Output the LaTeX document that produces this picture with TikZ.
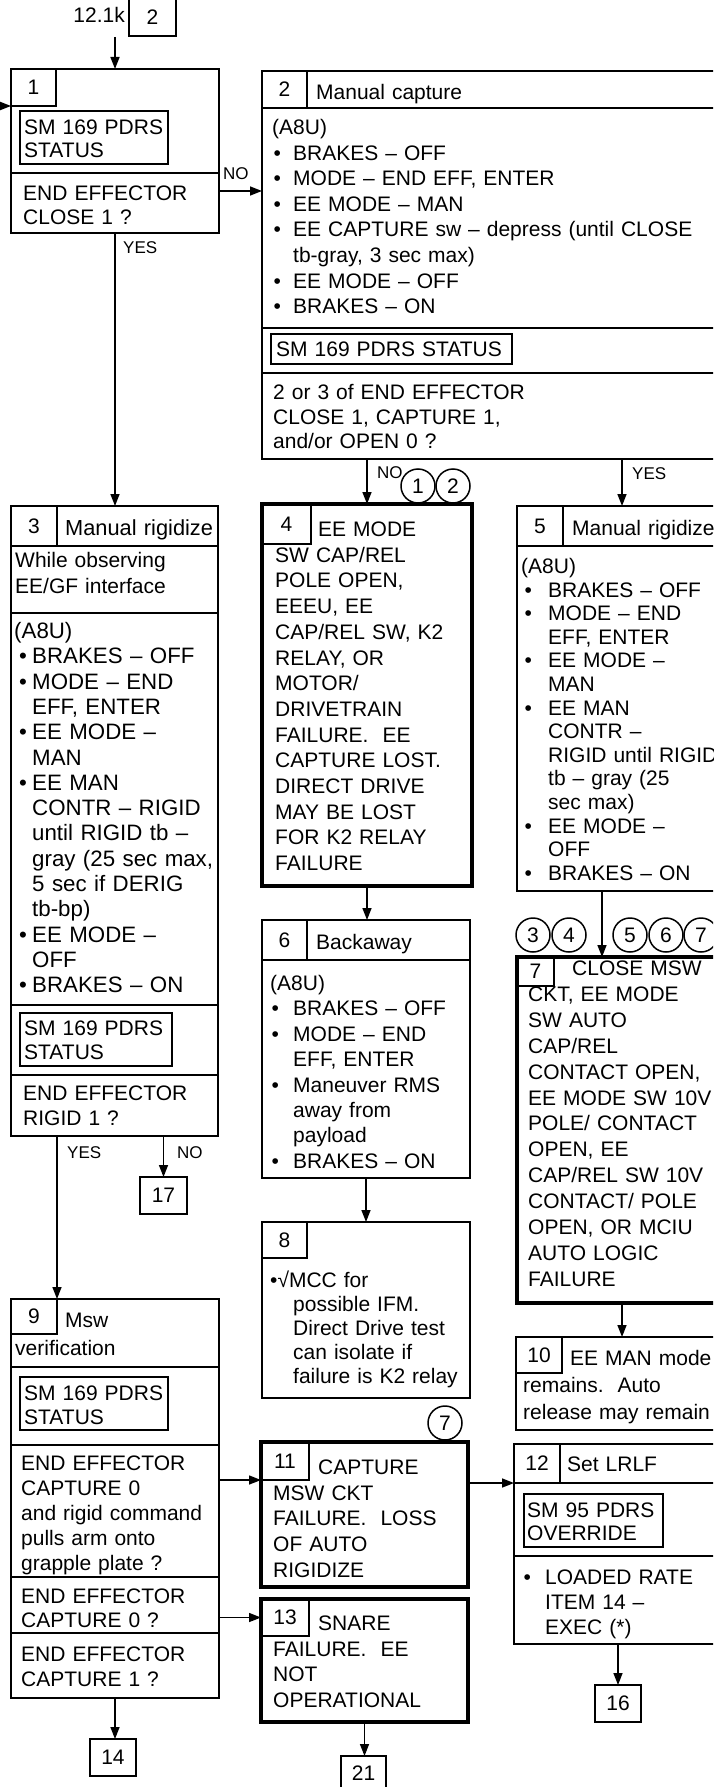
\documentclass[tikz,border=0pt]{standalone}
\usepackage{fontspec}
\setmainfont{Liberation Sans}
\usetikzlibrary{arrows.meta}
\newcommand\bulw{20pt}
\newcommand\bulh{1.5pt}
\newcommand\bul{\makebox[\bulw][l]{\hspace{\bulh}\textbullet}}
\newcommand\cont{\hspace*{\bulw}}
\begin{document}
\begin{tikzpicture}[x=1pt,y=-1pt,
 every node/.style={font=\fontsize{21}{24.5}\selectfont},
 box/.style={draw,line width=1.5pt,anchor=north west,inner sep=0pt,outer sep=0pt},
 heavy/.style={box,line width=4.5pt},
 sm/.style={box,line width=1.8pt},
 txt/.style={anchor=base west,inner sep=0pt,align=left,text width=#1},txt/.default=200pt,
 ls/.style={font=\fontsize{21}{#1}\selectfont},
 lsb/.style={font=\fontsize{22.3}{#1}\selectfont},
 blt/.style 2 args={execute at begin node={\def\bulw{#1}\def\bulh{#2}}},
 lbl/.style={anchor=base west,inner sep=0pt,font=\fontsize{17}{20}\selectfont},
 num/.style={circle,draw,line width=1.5pt,minimum size=34pt,inner sep=0pt},
 arr/.style={line width=1.5pt,-{Triangle[length=12pt,width=9pt]}},
 rule/.style={line width=1.5pt}]
 \path[use as bounding box] (0,0) rectangle (713,1787);
 \clip (0,0) rectangle (713,1787);
 \node[anchor=base east,inner sep=0pt] (pgl) at (125,22.5) {12.1k};
 \node[box,minimum width=47pt,minimum height=37pt] (pg) at (129,-1) {2};
 \node[box,minimum width=208pt,minimum height=164pt] (b1) at (11,69) {};
 \node[box,minimum width=45pt,minimum height=37pt] (b1n) at (11,69) {1};
 \node[sm,minimum width=148pt,minimum height=53pt] (b1s) at (20,111) {};
 \node[txt,ls=23.5] (b1t) at (24,134.5) {SM 169 PDRS\\STATUS};
 \draw[rule] (11,173) -- (219,173);
 \node[txt,ls=24] (b1q) at (23,200.5) {END EFFECTOR\\CLOSE 1 ?};
 \node[box,minimum width=465pt,minimum height=388pt] (b2) at (262,71) {};
 \node[box,minimum width=45pt,minimum height=37pt] (b2n) at (262,71) {2};
 \draw[rule] (b2n.south west) -- (b2n.south -| b2.east);
 \node[txt] (b2h) at (316,99.5) {Manual capture};
 \node[txt=430pt,ls=25.6,blt={21pt}{1.5pt}] (b2b) at (272,134.5) {(A8U)\\\bul BRAKES – OFF\\\bul MODE – END EFF, ENTER\\\bul EE MODE – MAN\\\bul EE CAPTURE sw – depress (until CLOSE\\\cont tb-gray, 3 sec max)\\\bul EE MODE – OFF\\\bul BRAKES – ON};
 \draw[rule] (262,328) -- (727,328);
 \node[sm,minimum width=241pt,minimum height=30pt] (b2s) at (271,334) {};
 \node[txt=300pt] (b2t) at (276,356.5) {SM 169 PDRS STATUS};
 \draw[rule] (262,373) -- (727,373);
 \node[txt=300pt,ls=24.5] (b2q) at (273,399.5) {2 or 3 of END EFFECTOR\\CLOSE 1, CAPTURE 1,\\and/or OPEN 0 ?};
 \node[box,minimum width=207pt,minimum height=630pt] (b3) at (11,506) {};
 \node[box,minimum width=46pt,minimum height=40pt] (b3n) at (11,506) {3};
 \draw[rule] (b3n.south west) -- (b3n.south -| b3.east);
 \node[txt,font=\fontsize{21.8}{25}\selectfont] (b3h) at (65,535.5) {Manual rigidize};
 \node[txt,ls=26] (b3w) at (15,567.5) {While observing\\EE/GF interface};
 \draw[rule] (11,613) -- (218,613);
 \node[txt=205pt,lsb=25.3,blt={18pt}{5pt}] (b3b) at (14,638.5) {(A8U)\\\bul BRAKES – OFF\\\bul MODE – END\\\cont EFF, ENTER\\\bul EE MODE –\\\cont MAN\\\bul EE MAN\\\cont CONTR – RIGID\\\cont until RIGID tb –\\\cont gray (25 sec max,\\\cont 5 sec if DERIG\\\cont tb-bp)\\\bul EE MODE –\\\cont OFF\\\bul BRAKES – ON};
 \draw[rule] (11,1005) -- (218,1005);
 \node[sm,minimum width=152pt,minimum height=53pt] (b3s) at (20,1013) {};
 \node[txt,ls=23.5] (b3t) at (24,1035.5) {SM 169 PDRS\\STATUS};
 \draw[rule] (11,1075) -- (218,1075);
 \node[txt,ls=25] (b3q) at (23,1100.5) {END EFFECTOR\\RIGID 1 ?};
 \node[heavy,minimum width=210pt,minimum height=382pt] (b4) at (262,504) {};
 \node[box,minimum width=49pt,minimum height=40pt] (b4n) at (262,504) {4};
 \node[txt,ls=25.7] (b4t) at (275,536.5) {\hspace*{43pt}EE MODE\\SW CAP/REL\\POLE OPEN,\\EEEU, EE\\CAP/REL SW, K2\\RELAY, OR\\MOTOR/\\DRIVETRAIN\\FAILURE.\ \ EE\\CAPTURE LOST.\\DIRECT DRIVE\\MAY BE LOST\\FOR K2 RELAY\\FAILURE};
 \node[box,minimum width=210pt,minimum height=385pt] (b5) at (517,506) {};
 \node[box,minimum width=46pt,minimum height=40pt] (b5n) at (517,506) {5};
 \draw[rule] (b5n.south west) -- (b5n.south -| b5.east);
 \node[txt] (b5h) at (572,535.5) {Manual rigidize};
 \node[txt,ls=23.6,blt={27pt}{3.5pt}] (b5b) at (521,573.5) {(A8U)\\\bul BRAKES – OFF\\\bul MODE – END\\\cont EFF, ENTER\\\bul EE MODE –\\\cont MAN\\\bul EE MAN\\\cont CONTR –\\\cont RIGID until RIGID\\\cont tb – gray (25\\\cont sec max)\\\bul EE MODE –\\\cont OFF\\\bul BRAKES – ON};
 \node[box,minimum width=208pt,minimum height=258pt] (b6) at (262,920) {};
 \node[box,minimum width=45pt,minimum height=40pt] (b6n) at (262,920) {6};
 \draw[rule] (b6n.south west) -- (b6n.south -| b6.east);
 \node[txt] (b6h) at (316,949.5) {Backaway};
 \node[txt,ls=25.4,blt={23pt}{1.5pt}] (b6b) at (270,990.5) {(A8U)\\\bul BRAKES – OFF\\\bul MODE – END\\\cont EFF, ENTER\\\bul Maneuver RMS\\\cont away from\\\cont payload\\\bul BRAKES – ON};
 \node[heavy,minimum width=210pt,minimum height=346pt] (b7) at (517,957) {};
 \node[box,minimum width=37pt,minimum height=29pt] (b7n) at (517,957) {7};
 \node[txt,ls=25.9] (b7t) at (528,975.5) {\hspace*{44pt}CLOSE MSW\\CKT, EE MODE\\SW AUTO\\CAP/REL\\CONTACT OPEN,\\EE MODE SW 10V\\POLE/ CONTACT\\OPEN, EE\\CAP/REL SW 10V\\CONTACT/ POLE\\OPEN, OR MCIU\\AUTO LOGIC\\FAILURE};
 \node[box,minimum width=208pt,minimum height=176pt] (b8) at (262,1222) {};
 \node[box,minimum width=45pt,minimum height=36pt] (b8n) at (262,1222) {8};
 \node[txt,ls=24,blt={23pt}{0pt}] (b8t) at (270,1287.5) {•√MCC for\\\cont possible IFM.\\\cont Direct Drive test\\\cont can isolate if\\\cont failure is K2 relay};
 \node[box,minimum width=208pt,minimum height=399pt] (b9) at (11,1299) {};
 \node[box,minimum width=46pt,minimum height=35pt] (b9n) at (11,1299) {9};
 \node[txt,ls=28] (b9h) at (15,1327.5) {\hspace*{50pt}Msw\\verification};
 \draw[rule] (11,1367) -- (219,1367);
 \node[sm,minimum width=148pt,minimum height=53pt] (b9s) at (20,1377) {};
 \node[txt,ls=24] (b9t) at (24,1400) {SM 169 PDRS\\STATUS};
 \draw[rule] (11,1445) -- (219,1445);
 \node[txt,ls=25] (b9q) at (21,1470.5) {END EFFECTOR\\CAPTURE 0\\and rigid command\\pulls arm onto\\grapple plate ?};
 \draw[rule] (11,1577) -- (219,1577);
 \node[txt,ls=24] (b9r) at (21,1603.5) {END EFFECTOR\\CAPTURE 0 ?};
 \draw[rule] (11,1633) -- (219,1633);
 \node[txt,ls=25] (b9u) at (21,1661.5) {END EFFECTOR\\CAPTURE 1 ?};
 \node[box,minimum width=211pt,minimum height=93pt] (b10) at (516,1337) {};
 \node[box,minimum width=46pt,minimum height=36pt] (b10n) at (516,1337) {10};
 \node[txt,ls=27] (b10t) at (523,1365.5) {\hspace*{47pt}EE MAN mode\\remains.\ \ Auto\\release may remain};
 \node[heavy,minimum width=207pt,minimum height=145pt] (b11) at (261,1442) {};
 \node[box,minimum width=48pt,minimum height=38pt] (b11n) at (261,1442) {11};
 \node[txt,ls=25.7] (b11t) at (273,1474.5) {\hspace*{45pt}CAPTURE\\MSW CKT\\FAILURE.\ \ LOSS\\OF AUTO\\RIGIDIZE};
 \node[heavy,minimum width=207pt,minimum height=123pt] (b13) at (261,1599) {};
 \node[box,minimum width=48pt,minimum height=37pt] (b13n) at (261,1599) {13};
 \node[txt,ls=25.7] (b13t) at (273,1630.5) {\hspace*{45pt}SNARE\\FAILURE.\ \ EE\\NOT\\OPERATIONAL};
 \node[box,minimum width=213pt,minimum height=200pt] (b12) at (514,1444) {};
 \node[box,minimum width=46pt,minimum height=39pt] (b12n) at (514,1444) {12};
 \draw[rule] (b12n.south west) -- (b12n.south -| b12.east);
 \node[txt] (b12h) at (567,1471.5) {Set LRLF};
 \node[sm,minimum width=139pt,minimum height=53pt] (b12s) at (524,1494) {};
 \node[txt,ls=23] (b12t) at (527,1517.5) {SM 95 PDRS\\OVERRIDE};
 \draw[rule] (514,1556) -- (727,1556);
 \node[txt,ls=25,blt={23pt}{1.5pt}] (b12b) at (522,1584.5) {\bul LOADED RATE\\\cont ITEM 14 –\\\cont EXEC (*)};
 \node[box,minimum width=46pt,minimum height=37pt] (b14) at (90,1739) {14};
 \node[box,minimum width=46pt,minimum height=37pt] (b16) at (595,1685) {16};
 \node[box,minimum width=47pt,minimum height=37pt] (b17) at (140,1177) {17};
 \node[box,minimum width=45pt,minimum height=34pt] (b21) at (341,1756) {21};
 \node[num] (c1) at (418,486) {1}; \node[num] (c2) at (453,486) {2};
 \node[num] (c3) at (533,935) {3}; \node[num] (c4) at (569,935) {4};
 \node[num] (c5) at (630,935) {5}; \node[num] (c6) at (666,935) {6}; \node[num] (c7) at (701,935) {7};
 \node[num] (c7b) at (445,1423) {7};
 \node[lbl] (no1) at (223,180) {NO}; \node[lbl] (yes1) at (123,254) {YES};
 \node[lbl] (no2) at (377,478) {NO}; \node[lbl] (yes2) at (632,479) {YES};
 \node[lbl] (yes3) at (67,1158) {YES}; \node[lbl] (no3) at (177,1158) {NO};
 \coordinate (in1) at (115,37); \coordinate (in2) at (-2,106);
 \draw[arr] (in1) -- (b1.north);
 \draw[arr] (in2) -- (b1n.south west);
 \draw[arr] ([yshift=-40pt]b1.east) -- ([yshift=-40pt]b1.east -| b2.west);
 \draw[arr] (b1.south) -- (b1.south |- b3.north);
 \draw[arr] (b2.south -| b4.north) -- (b4.north);
 \draw[arr] (b2.south -| b5.north) -- (b5.north);
 \draw[arr] (b4.south) -- (b4.south |- b6.north);
 \draw[arr] (b6.south) -- (b6.south |- b8.north);
 \draw[arr] ([xshift=-20pt]b5.south) -- ([xshift=-20pt]b5.south |- b7.north);
 \draw[arr] (b7.south) -- (b7.south |- b10.north);
 \draw[arr] (b3.south -| b9n.east) -- (b9n.north east);
 \draw[arr] (b3.south -| b17.north) -- (b17.north);
 \draw[arr] (b9.east |- b11n.south) -- (b11n.south west);
 \draw[arr] (b9.east |- b13n.west) -- (b13n.west);
 \draw[arr] (b11.east |- b12n.south) -- (b12n.south west);
 \draw[arr] (b12.south -| b16.north) -- (b16.north);
 \draw[arr] (b13.south) -- (b13.south |- b21.north);
 \draw[arr] (b9.south) -- (b9.south |- b14.north);
\end{tikzpicture}
\end{document}
